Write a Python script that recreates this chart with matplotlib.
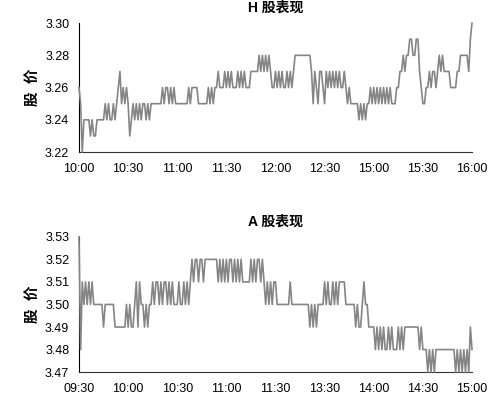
import matplotlib
matplotlib.use("Agg")
import matplotlib.pyplot as plt

plt.rcParams['font.family'] = ['Liberation Sans', 'Noto Sans CJK SC', 'DejaVu Sans']

# minute-by-minute prices
h_prices = [
    3.26, 3.25, 3.22, 3.24, 3.24, 3.24, 3.24, 3.23, 3.24, 3.23,
    3.23, 3.24, 3.24, 3.24, 3.24, 3.24, 3.25, 3.24, 3.25, 3.24,
    3.24, 3.25, 3.24, 3.25, 3.26, 3.27, 3.25, 3.26, 3.25, 3.26,
    3.25, 3.23, 3.24, 3.25, 3.24, 3.25, 3.24, 3.25, 3.24, 3.25,
    3.25, 3.24, 3.25, 3.24, 3.25, 3.25, 3.25, 3.25, 3.25, 3.25,
    3.25, 3.26, 3.25, 3.26, 3.26, 3.25, 3.26, 3.25, 3.26, 3.25,
    3.25, 3.25, 3.25, 3.25, 3.25, 3.25, 3.25, 3.26, 3.25, 3.26,
    3.26, 3.26, 3.26, 3.25, 3.25, 3.25, 3.25, 3.25, 3.25, 3.26,
    3.25, 3.26, 3.25, 3.26, 3.26, 3.27, 3.26, 3.26, 3.26, 3.27,
    3.26, 3.27, 3.26, 3.27, 3.26, 3.26, 3.26, 3.27, 3.26, 3.27,
    3.26, 3.27, 3.26, 3.26, 3.26, 3.27, 3.27, 3.27, 3.27, 3.27,
    3.28, 3.27, 3.28, 3.27, 3.28, 3.27, 3.28, 3.27, 3.26, 3.26,
    3.27, 3.26, 3.27, 3.26, 3.27, 3.26, 3.26, 3.27, 3.26, 3.27,
    3.26, 3.27, 3.28, 3.28, 3.28, 3.28, 3.28, 3.28, 3.28, 3.28,
    3.28, 3.28, 3.27, 3.25, 3.27, 3.26, 3.25, 3.27, 3.27, 3.26,
    3.25, 3.27, 3.26, 3.27, 3.26, 3.27, 3.26, 3.27, 3.26, 3.27,
    3.26, 3.26, 3.27, 3.26, 3.25, 3.26, 3.25, 3.25, 3.25, 3.25,
    3.25, 3.24, 3.25, 3.24, 3.25, 3.24, 3.25, 3.25, 3.26, 3.25,
    3.26, 3.25, 3.26, 3.25, 3.26, 3.25, 3.26, 3.25, 3.26, 3.25,
    3.26, 3.25, 3.25, 3.25, 3.26, 3.26, 3.27, 3.27, 3.28, 3.27,
    3.28, 3.28, 3.29, 3.29, 3.28, 3.28, 3.29, 3.29, 3.27, 3.26,
    3.25, 3.25, 3.26, 3.26, 3.27, 3.26, 3.27, 3.27, 3.26, 3.27,
    3.28, 3.27, 3.28, 3.27, 3.27, 3.27, 3.27, 3.26, 3.26, 3.26,
    3.26, 3.27, 3.27, 3.28, 3.28, 3.28, 3.28, 3.28, 3.27, 3.29,
    3.30,
]

a_prices = [
    3.53, 3.48, 3.51, 3.50, 3.51, 3.50, 3.51, 3.50, 3.51, 3.50,
    3.50, 3.50, 3.50, 3.50, 3.50, 3.49, 3.50, 3.50, 3.50, 3.50,
    3.50, 3.50, 3.49, 3.49, 3.49, 3.49, 3.49, 3.49, 3.49, 3.50,
    3.49, 3.50, 3.49, 3.49, 3.50, 3.51, 3.49, 3.51, 3.50, 3.50,
    3.49, 3.50, 3.49, 3.50, 3.50, 3.51, 3.50, 3.51, 3.51, 3.50,
    3.51, 3.50, 3.51, 3.51, 3.50, 3.51, 3.50, 3.51, 3.50, 3.50,
    3.50, 3.51, 3.50, 3.50, 3.51, 3.50, 3.51, 3.50, 3.51, 3.52,
    3.51, 3.52, 3.52, 3.51, 3.52, 3.52, 3.51, 3.52, 3.52, 3.52,
    3.52, 3.52, 3.52, 3.52, 3.52, 3.51, 3.52, 3.51, 3.52, 3.51,
    3.52, 3.51, 3.52, 3.52, 3.51, 3.52, 3.51, 3.52, 3.51, 3.52,
    3.51, 3.51, 3.51, 3.51, 3.51, 3.52, 3.51, 3.52, 3.51, 3.52,
    3.52, 3.51, 3.52, 3.51, 3.50, 3.51, 3.50, 3.51, 3.50, 3.51,
    3.51, 3.50, 3.50, 3.50, 3.50, 3.50, 3.50, 3.50, 3.50, 3.51,
    3.50, 3.50, 3.50, 3.50, 3.50, 3.50, 3.50, 3.50, 3.50, 3.50,
    3.50, 3.49, 3.50, 3.49, 3.50, 3.49, 3.50, 3.50, 3.50, 3.50,
    3.51, 3.50, 3.51, 3.50, 3.50, 3.51, 3.50, 3.51, 3.50, 3.51,
    3.51, 3.51, 3.51, 3.50, 3.50, 3.50, 3.50, 3.50, 3.50, 3.49,
    3.50, 3.49, 3.49, 3.50, 3.51, 3.50, 3.50, 3.49, 3.49, 3.49,
    3.49, 3.48, 3.49, 3.48, 3.49, 3.48, 3.49, 3.48, 3.48, 3.49,
    3.48, 3.49, 3.48, 3.48, 3.48, 3.49, 3.48, 3.49, 3.48, 3.49,
    3.49, 3.49, 3.49, 3.49, 3.49, 3.49, 3.49, 3.49, 3.48, 3.49,
    3.48, 3.48, 3.48, 3.47, 3.48, 3.47, 3.48, 3.47, 3.48, 3.48,
    3.48, 3.48, 3.48, 3.48, 3.48, 3.48, 3.48, 3.48, 3.48, 3.48,
    3.47, 3.48, 3.47, 3.48, 3.47, 3.48, 3.47, 3.48, 3.47, 3.49,
    3.48,
]

h_times = ["10:00", "10:30", "11:00", "11:30", "12:00", "12:30", "15:00", "15:30", "16:00"]
a_times = ["09:30", "10:00", "10:30", "11:00", "11:30", "13:30", "14:00", "14:30", "15:00"]
h_yticks = [3.22, 3.24, 3.26, 3.28, 3.30]
a_yticks = [3.47, 3.48, 3.49, 3.50, 3.51, 3.52, 3.53]


def draw_panel(ax, prices, times, yticks, title):
    ax.plot(range(len(prices)), prices, color="#858585", linewidth=1.2, clip_on=False, zorder=3)
    ax.set_xlim(0, 240)
    ax.set_ylim(yticks[0], yticks[-1])
    ax.set_xticks(range(0, 241, 30))
    ax.set_xticklabels(times)
    ax.set_yticks(yticks)
    ax.set_yticklabels([f"{v:.2f}" for v in yticks])
    ax.tick_params(axis="x", length=0, labelsize=9, pad=8)
    ax.tick_params(axis="y", length=0, labelsize=9, pad=7)
    ax.spines["top"].set_visible(False)
    ax.spines["right"].set_visible(False)
    ax.spines["left"].set_color("black")
    ax.spines["bottom"].set_color("#333333")
    ax.set_title(title, fontsize=10, fontweight="bold", pad=8)
    ax.set_ylabel("股  价", fontsize=10.5, fontweight="bold", labelpad=4)


fig = plt.figure(figsize=(5, 3.98), dpi=100)
ax1 = fig.add_axes([0.158, 0.618, 0.786, 0.324])
ax2 = fig.add_axes([0.158, 0.065, 0.786, 0.340])
draw_panel(ax1, h_prices, h_times, h_yticks, "H 股表现")
draw_panel(ax2, a_prices, a_times, a_yticks, "A 股表现")

fig.savefig("out.png", dpi=100)
